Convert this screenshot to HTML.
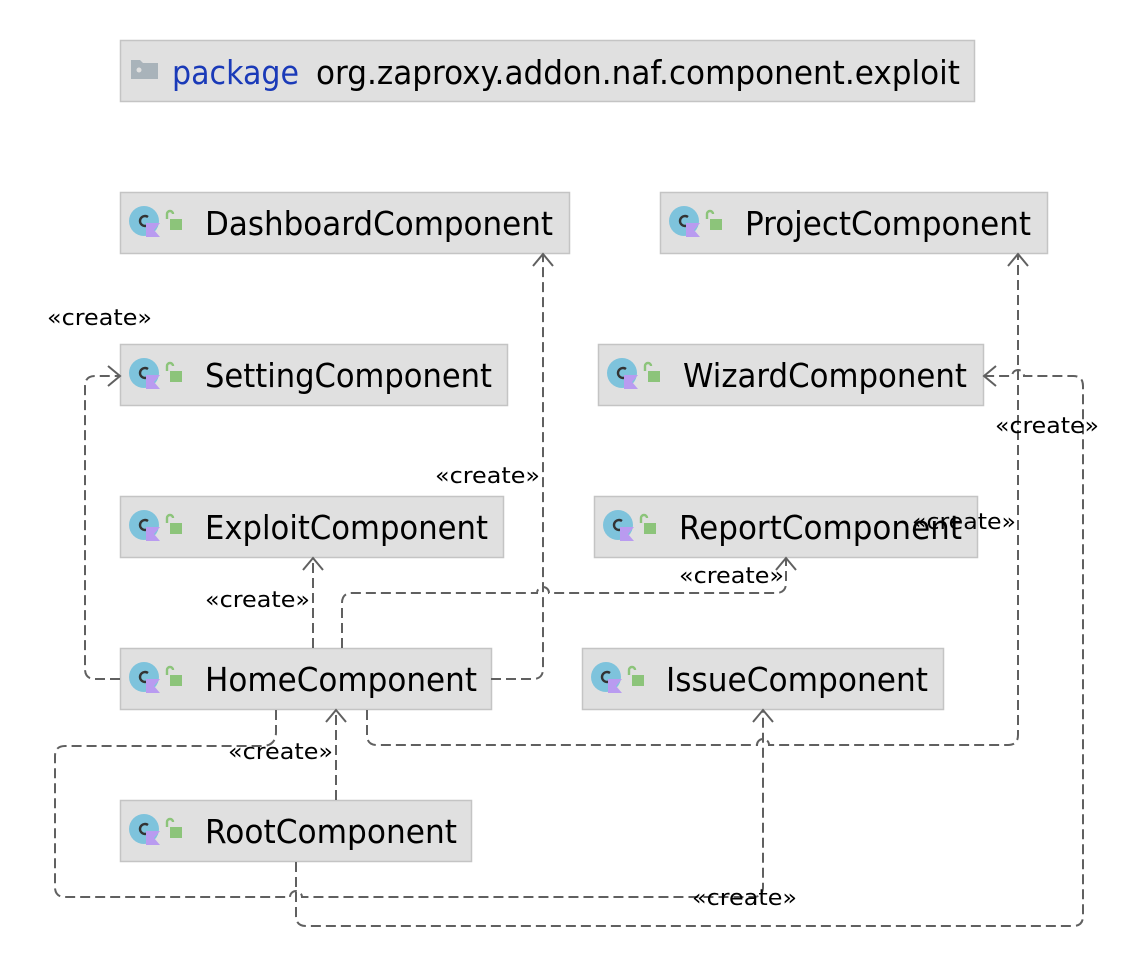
<!DOCTYPE html>
<html><head><meta charset="utf-8"><style>
html,body{margin:0;padding:0;background:#fff;}
svg{display:block;}
text{font-family:"DejaVu Sans","Liberation Sans",sans-serif;}
.n{font-size:33px;fill:#000;}
.l{font-size:22px;fill:#000;}
.b{fill:#e0e0e0;stroke:#c4c4c4;stroke-width:1.5;}
.e{fill:none;stroke:#606060;stroke-width:2;stroke-dasharray:10,5;}
.a{fill:none;stroke:#606060;stroke-width:2;}
</style></head><body>
<svg width="1148" height="968" viewBox="0 0 1148 968" xmlns="http://www.w3.org/2000/svg">
<defs>
<g id="ic">
<circle cx="0" cy="0" r="15" fill="#7ec3dc"/>
<path d="M4,-4 A5,5 0 1 0 4,4" fill="none" stroke="#333" stroke-width="2.4"/>
<path d="M2,2 L16,2 L10,9 L16,16 L2,16 Z" fill="#b99bf0"/>
<rect x="26" y="-2" width="12" height="11" fill="#8cc47a"/>
<path d="M23,-2 V-7 A3,3 0 0 1 29,-7" fill="none" stroke="#8cc47a" stroke-width="2.4"/>
</g>
</defs>

<rect class="b" x="120.5" y="40.5" width="854" height="61"/>
<path d="M131,60 h9 l3,3 h15 v16 h-27 z" fill="#a9b3ba"/>
<circle cx="139" cy="70" r="2.5" fill="#e0e0e0"/>
<text x="172" y="84" font-size="33" fill="#1a3ab8" textLength="127" lengthAdjust="spacingAndGlyphs">package</text>
<text class="n" x="316" y="84" textLength="644" lengthAdjust="spacingAndGlyphs">org.zaproxy.addon.naf.component.exploit</text>

<rect class="b" x="120.5" y="192.5" width="449" height="61"/>
<use href="#ic" x="144" y="221"/>
<text class="n" x="205" y="235" textLength="348" lengthAdjust="spacingAndGlyphs">DashboardComponent</text>

<rect class="b" x="660.5" y="192.5" width="387" height="61"/>
<use href="#ic" x="684" y="221"/>
<text class="n" x="745" y="235" textLength="286" lengthAdjust="spacingAndGlyphs">ProjectComponent</text>

<rect class="b" x="120.5" y="344.5" width="387" height="61"/>
<use href="#ic" x="144" y="373"/>
<text class="n" x="205" y="387" textLength="287" lengthAdjust="spacingAndGlyphs">SettingComponent</text>

<rect class="b" x="598.5" y="344.5" width="385" height="61"/>
<use href="#ic" x="622" y="373"/>
<text class="n" x="683" y="387" textLength="284" lengthAdjust="spacingAndGlyphs">WizardComponent</text>

<rect class="b" x="120.5" y="496.5" width="383" height="61"/>
<use href="#ic" x="144" y="525"/>
<text class="n" x="205" y="539" textLength="283" lengthAdjust="spacingAndGlyphs">ExploitComponent</text>

<rect class="b" x="594.5" y="496.5" width="383" height="61"/>
<use href="#ic" x="618" y="525"/>
<text class="n" x="679" y="539" textLength="283" lengthAdjust="spacingAndGlyphs">ReportComponent</text>

<rect class="b" x="120.5" y="648.5" width="371" height="61"/>
<use href="#ic" x="144" y="677"/>
<text class="n" x="205" y="691" textLength="272" lengthAdjust="spacingAndGlyphs">HomeComponent</text>

<rect class="b" x="582.5" y="648.5" width="361" height="61"/>
<use href="#ic" x="606" y="677"/>
<text class="n" x="666" y="691" textLength="262" lengthAdjust="spacingAndGlyphs">IssueComponent</text>

<rect class="b" x="120.5" y="800.5" width="351" height="61"/>
<use href="#ic" x="144" y="829"/>
<text class="n" x="205" y="843" textLength="252" lengthAdjust="spacingAndGlyphs">RootComponent</text>

<path class="e" d="M120,679 H95 Q85,679 85,669 V386 Q85,376 95,376 H119"/>
<path class="a" d="M108,366 L120,376 L108,386"/>
<path class="e" d="M491,679 H533 Q543,679 543,669 V254"/>
<path class="a" d="M533,266 L543,254 L553,266"/>
<path class="e" d="M313,648 V558"/>
<path class="a" d="M303,570 L313,558 L323,570"/>
<path class="e" d="M342,648 V603 Q342,593 352,593 H537 A6,6 0 0 1 549,593 H776 Q786,593 786,583 V558"/>
<path class="a" d="M776,570 L786,558 L796,570"/>
<path class="e" d="M367,710 V735 Q367,745 377,745 H757 A6,6 0 0 1 769,745 H1008 Q1018,745 1018,735 V254"/>
<path class="a" d="M1008,266 L1018,254 L1028,266"/>
<path class="e" d="M336,800 V710"/>
<path class="a" d="M326,722 L336,710 L346,722"/>
<path class="e" d="M276,710 V732 Q276,746 262,746 H65 Q55,746 55,756 V887 Q55,897 65,897 H290 A6,6 0 0 1 302,897 H753 Q763,897 763,887 V710"/>
<path class="a" d="M753,722 L763,710 L773,722"/>
<path class="e" d="M296,862 V916 Q296,926 306,926 H1073 Q1083,926 1083,916 V386 Q1083,376 1073,376 H1024 A6,6 0 0 0 1012,376 H984"/>
<path class="a" d="M996,366 L984,376 L996,386"/>

<text class="l" x="47" y="325" textLength="105" lengthAdjust="spacingAndGlyphs">«create»</text>
<text class="l" x="435" y="483" textLength="105" lengthAdjust="spacingAndGlyphs">«create»</text>
<text class="l" x="205" y="607" textLength="105" lengthAdjust="spacingAndGlyphs">«create»</text>
<text class="l" x="679" y="583" textLength="105" lengthAdjust="spacingAndGlyphs">«create»</text>
<text class="l" x="912" y="529" textLength="104" lengthAdjust="spacingAndGlyphs">«create»</text>
<text class="l" x="228" y="759" textLength="105" lengthAdjust="spacingAndGlyphs">«create»</text>
<text class="l" x="692" y="905" textLength="105" lengthAdjust="spacingAndGlyphs">«create»</text>
<text class="l" x="995" y="433" textLength="104" lengthAdjust="spacingAndGlyphs">«create»</text>
</svg>
</body></html>
